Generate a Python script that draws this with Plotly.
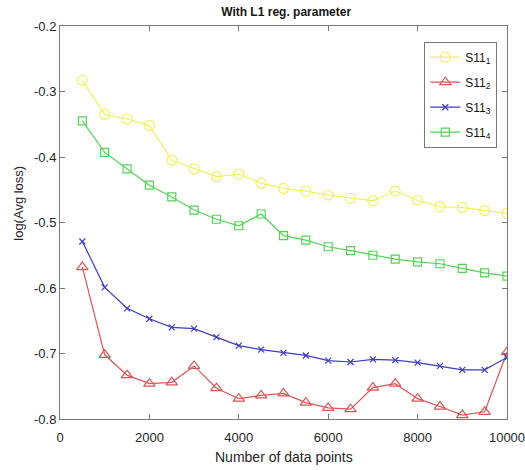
import plotly.graph_objects as go

n_points = [500, 1000, 1500, 2000, 2500, 3000, 3500, 4000, 4500, 5000,
            5500, 6000, 6500, 7000, 7500, 8000, 8500, 9000, 9500, 10000]

s11_1 = [-0.283, -0.335, -0.342, -0.352, -0.405, -0.418, -0.430, -0.426, -0.440, -0.448,
         -0.452, -0.458, -0.463, -0.467, -0.452, -0.466, -0.476, -0.477, -0.482, -0.486]
s11_2 = [-0.568, -0.702, -0.733, -0.746, -0.744, -0.719, -0.753, -0.769, -0.764, -0.761,
         -0.775, -0.783, -0.785, -0.752, -0.746, -0.769, -0.781, -0.794, -0.789, -0.698]
s11_3 = [-0.529, -0.599, -0.631, -0.647, -0.660, -0.662, -0.675, -0.688, -0.694, -0.699,
         -0.703, -0.711, -0.713, -0.709, -0.710, -0.714, -0.719, -0.725, -0.725, -0.706]
s11_4 = [-0.345, -0.393, -0.418, -0.443, -0.461, -0.481, -0.495, -0.505, -0.487, -0.520,
         -0.527, -0.537, -0.543, -0.550, -0.556, -0.560, -0.563, -0.570, -0.577, -0.582]

x_ticks = [0, 2000, 4000, 6000, 8000, 10000]
x_ticklabels = ["0", "2000", "4000", "6000", "8000", "10000"]
y_ticks = [-0.8, -0.7, -0.6, -0.5, -0.4, -0.3, -0.2]
y_ticklabels = ["-0.8", "-0.7", "-0.6", "-0.5", "-0.4", "-0.3", "-0.2"]

series_names = ["S11<sub>1</sub>", "S11<sub>2</sub>", "S11<sub>3</sub>", "S11<sub>4</sub>"]
series_vals = [s11_1, s11_2, s11_3, s11_4]
colors = ["rgb(240,240,95)", "rgb(220,85,85)", "rgb(60,60,200)", "rgb(85,210,85)"]
symbols = ["circle-open", "triangle-up-open", "x-thin-open", "square-open"]
sizes = [10, 10, 6, 8]

fig = go.Figure()
for i, (name, vals, c, s, sz) in enumerate(zip(series_names, series_vals, colors, symbols, sizes)):
    fig.add_trace(go.Scatter(
        x=n_points, y=vals, name=name, mode="lines+markers", legendgroup=f"g{i}",
        line=dict(color=c, width=1.2),
        marker=dict(symbol=s, size=sz, color=c, line=dict(color=c, width=1.2)),
    ))

axis_common = dict(
    showline=True, linecolor="rgb(120,120,120)", linewidth=1,
    mirror="allticks", ticks="inside", ticklen=5, tickcolor="rgb(120,120,120)",
    showgrid=False, zeroline=False, ticklabeloverflow="allow", automargin=False,
    tickfont=dict(family="Liberation Sans, Arial", size=13, color="rgb(38,38,38)"),
)

label_font = dict(family="Liberation Sans, Arial", size=14, color="rgb(38,38,38)")

fig.update_layout(
    width=525, height=470,
    margin=dict(l=60, r=18, t=26, b=51),
    paper_bgcolor="white", plot_bgcolor="white",
    title=dict(text="<b>With L1 reg. parameter</b>", x=0.545, xanchor="center",
               y=0.975, yanchor="middle",
               font=dict(family="Liberation Sans, Arial", size=12, color="rgb(20,20,20)")),
    xaxis=dict(range=[0, 10000], tickvals=x_ticks, ticktext=x_ticklabels,
               ticklabelstandoff=6, **axis_common),
    yaxis=dict(range=[-0.8, -0.2], tickvals=y_ticks, ticktext=y_ticklabels,
               **axis_common),
    legend=dict(x=0.815, y=0.96, xanchor="left", yanchor="top",
                bgcolor="white", bordercolor="rgb(120,120,120)", borderwidth=1,
                font=dict(family="Liberation Sans, Arial", size=12, color="rgb(20,20,20)"),
                tracegroupgap=6, itemwidth=30),
    showlegend=True,
    annotations=[
        dict(text="Number of data points", xref="paper", yref="paper",
             x=0.5, y=-0.097, xanchor="center", yanchor="middle",
             showarrow=False, font=label_font),
        dict(text="log(Avg loss)", xref="paper", yref="paper",
             x=-0.092, y=0.55, xanchor="center", yanchor="middle", textangle=-90,
             showarrow=False, font=dict(family="Liberation Sans, Arial", size=13, color="rgb(38,38,38)")),
    ],
)

fig.write_html("out.html")
